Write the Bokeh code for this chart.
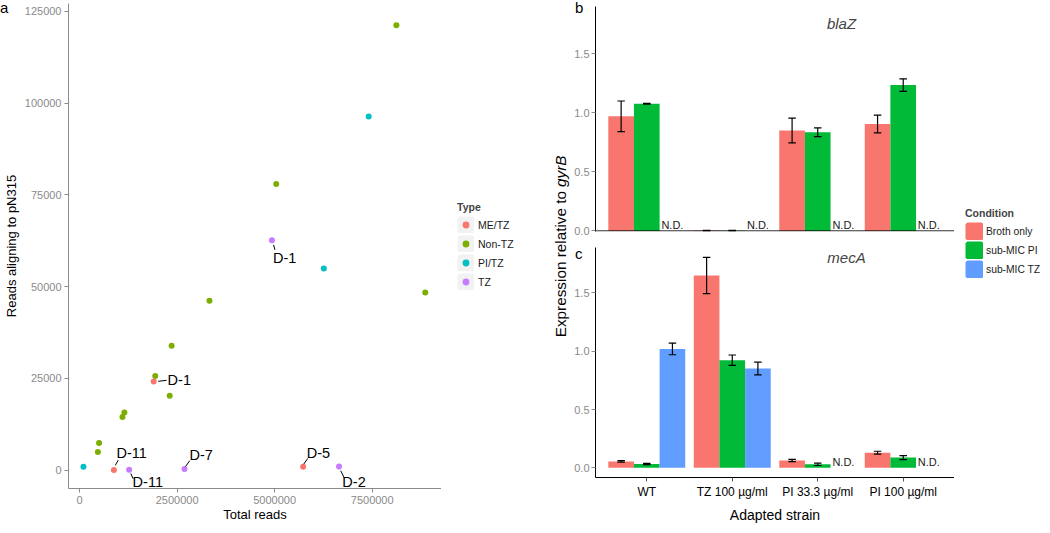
import math
from bokeh.plotting import figure
from bokeh.models import (ColumnDataSource, Range1d, FactorRange, FixedTicker, Div, Span,
                          NumeralTickFormatter, Legend, LegendItem, Label)
from bokeh.transform import dodge, factor_cmap
from bokeh.layouts import row, column
from bokeh.embed import file_html
from bokeh.resources import INLINE
from bokeh.core.properties import value

FONT = "Liberation Sans"
NAN = float("nan")
GRAY = "#8a8a8a"

# ---------------- Panel a data ----------------
types = ["ME/TZ", "Non-TZ", "PI/TZ", "TZ"]
type_colors = ["#F8766D", "#7CAE00", "#00BFC4", "#C77CFF"]
total_reads = [8120000, 5040000, 8860000, 3330000, 2360000, 1940000, 2310000,
               1150000, 1100000, 500000, 470000,
               7410000, 6260000, 100000,
               1900000, 880000, 5730000,
               4930000, 1270000, 2690000, 6650000]
pn315_reads = [121200, 77960, 48390, 46160, 33870, 25650, 20270,
               15700, 14440, 7370, 4950,
               96340, 54950, 910,
               24110, 0, 910,
               62630, 100, 300, 1000]
sample_type = ["Non-TZ", "Non-TZ", "Non-TZ", "Non-TZ", "Non-TZ", "Non-TZ", "Non-TZ",
               "Non-TZ", "Non-TZ", "Non-TZ", "Non-TZ",
               "PI/TZ", "PI/TZ", "PI/TZ",
               "ME/TZ", "ME/TZ", "ME/TZ",
               "TZ", "TZ", "TZ", "TZ"]
label_names = ["D-1", "D-1", "D-11", "D-11", "D-7", "D-5", "D-2"]
label_point = [17, 14, 15, 18, 19, 16, 20]
a_x_ticks = [0, 2500000, 5000000, 7500000]
a_y_ticks = [0, 25000, 50000, 75000, 100000, 125000]

# ---------------- Panels b / c data ----------------
strains = ["WT", "TZ 100 µg/ml", "PI 33.3 µg/ml", "PI 100 µg/ml"]
conditions = ["Broth only", "sub-MIC PI", "sub-MIC TZ"]
cond_colors = ["#F8766D", "#00BA38", "#619CFF"]

blaZ_broth = [0.97, 0.003, 0.85, 0.905]
blaZ_broth_err = [0.13, 0.002, 0.105, 0.075]
blaZ_pi = [1.077, 0.002, 0.835, 1.235]
blaZ_pi_err = [0.003, 0.002, 0.037, 0.053]
blaZ_tz = [None, None, None, None]
blaZ_tz_err = [None, None, None, None]

mecA_broth = [0.055, 1.65, 0.063, 0.13]
mecA_broth_err = [0.006, 0.155, 0.01, 0.012]
mecA_pi = [0.033, 0.923, 0.03, 0.088]
mecA_pi_err = [0.005, 0.045, 0.01, 0.017]
mecA_tz = [1.02, 0.852, None, None]
mecA_tz_err = [0.05, 0.054, None, None]
bc_y_ticks = [0, 0.5, 1.0, 1.5]

# ---------------- layout constants ----------------
XA = (-283000, 9276000)
YA = (-5014, 127125)
A_W, A_H, A_L, A_R, A_T, A_B = 441, 525, 66, 0, 3, 37
label_dx = [12.7, 25.6, 17.7, 18.7, 16.7, 15.3, 15.0]
label_dy = [18.0, -2.0, -16.7, 12.4, -14.0, -14.0, 15.7]
seg_start = [(1.7, 4.6), (4.6, -0.3), (1.4, -4.7), (1.7, 3.7), (1.0, -2.4), (0.6, -2.6), (1.7, 4.3)]
seg_end = [(3.0, 9.6), (13.0, -1.3), (4.4, -10.0), (4.0, 9.0), (5.3, -8.4), (4.6, -8.3), (5.0, 11.0)]


def clean(lst):
    return [NAN if v is None else v for v in lst]


def letter(txt, margin):
    return Div(text='<span style="font-family:\'Liberation Sans\';font-size:15px;color:#000;'
                    'line-height:normal;">%s</span>' % txt,
               width=14, height=20, margin=margin)


def style_axis(ax, line_color, tick_color, label_color, size="11px"):
    ax.axis_line_color = line_color
    ax.major_tick_line_color = tick_color
    ax.minor_tick_line_color = None
    ax.major_tick_out = 4
    ax.major_tick_in = 0
    ax.major_label_text_color = label_color
    ax.major_label_text_font = FONT
    ax.major_label_text_font_size = size
    ax.axis_label_text_font = FONT
    ax.axis_label_text_font_style = "normal"
    ax.axis_label_text_color = "black"


# ================= Panel a =================
pa = figure(width=A_W, height=A_H, x_range=Range1d(*XA), y_range=Range1d(*YA),
            output_backend="svg", toolbar_location=None,
            min_border_left=A_L, min_border_right=A_R, min_border_top=A_T, min_border_bottom=A_B)
pa.grid.visible = False
pa.outline_line_color = None
pa.border_fill_alpha = 0
for ax in (pa.xaxis[0], pa.yaxis[0]):
    style_axis(ax, GRAY, GRAY, GRAY)
    ax.axis_label_text_font_size = "13px"
    ax.major_label_standoff = 3
pa.xaxis[0].axis_label = "Total reads"
pa.xaxis[0].axis_label_standoff = 0
pa.yaxis[0].axis_label = "Reads aligning to pN315"
pa.yaxis[0].axis_label_standoff = 3
pa.xaxis[0].ticker = FixedTicker(ticks=a_x_ticks)
pa.yaxis[0].ticker = FixedTicker(ticks=a_y_ticks)
pa.xaxis[0].formatter = NumeralTickFormatter(format="0")
pa.yaxis[0].formatter = NumeralTickFormatter(format="0")

src_a = ColumnDataSource(dict(x=total_reads, y=pn315_reads, t=sample_type))
pa.scatter("x", "y", source=src_a, size=6,
           fill_color=factor_cmap("t", type_colors, types), line_color=None)

fw = A_W - A_L - A_R
fh = A_H - A_T - A_B
sx = fw / (XA[1] - XA[0])
sy = fh / (YA[1] - YA[0])
lx = [total_reads[i] for i in label_point]
ly = [pn315_reads[i] for i in label_point]
seg_src = ColumnDataSource(dict(
    x0=[x + s[0] / sx for x, s in zip(lx, seg_start)],
    y0=[y - s[1] / sy for y, s in zip(ly, seg_start)],
    x1=[x + s[0] / sx for x, s in zip(lx, seg_end)],
    y1=[y - s[1] / sy for y, s in zip(ly, seg_end)]))
pa.segment("x0", "y0", "x1", "y1", source=seg_src, line_color="black", line_width=1)
lab_src = ColumnDataSource(dict(x=lx, y=ly, text=label_names, dx=label_dx, dy=label_dy))
pa.text("x", "y", text="text", x_offset="dx", y_offset="dy", source=lab_src,
        text_font=value(FONT), text_font_size="14.5px", text_align="center",
        text_baseline="middle", text_color="black")

# ================= Middle: Type legend + shared y label =================
M_W = 130
M_FH = A_H - A_T - A_B
pm = figure(width=M_W, height=A_H, x_range=Range1d(0, M_W), y_range=Range1d(0, M_FH),
            output_backend="svg", toolbar_location=None, x_axis_type=None, y_axis_type=None,
            min_border_left=0, min_border_right=0, min_border_top=A_T, min_border_bottom=A_B)
pm.grid.visible = False
pm.outline_line_color = None
pm.border_fill_alpha = 0
leg_src = ColumnDataSource(dict(x=[NAN] * len(types), y=[NAN] * len(types), c=type_colors))
bg = pm.rect("x", "y", width=1, height=1, source=leg_src, fill_color="#F2F2F2",
             line_color="#F2F2F2", line_width=3.4)
dots = pm.scatter("x", "y", source=leg_src, fill_color="c", line_color=None)
leg_a = Legend(items=[LegendItem(label=t, renderers=[bg, dots], index=i) for i, t in enumerate(types)],
               location=(16, 198), title="Type", orientation="vertical",
               glyph_width=17, glyph_height=17, label_height=17, label_width=10,
               spacing=2, padding=0, margin=0, label_standoff=4,
               label_text_font=FONT, label_text_font_size="10.5px", label_text_color="#1a1a1a",
               title_text_font=FONT, title_text_font_size="10.5px", title_text_font_style="bold",
               title_standoff=3, border_line_color=None, background_fill_alpha=0)
pm.add_layout(leg_a)
frame_bottom_page = A_H - A_B
YLAB_X = 118.5
pm.text(x=[YLAB_X], y=[frame_bottom_page - 190.5], text=["Expression relative to"],
        angle=math.pi / 2, text_align="right", text_baseline="alphabetic",
        text_font=value(FONT), text_font_size="15.3px", text_color="black")
pm.text(x=[YLAB_X], y=[frame_bottom_page - 186.5], text=["gyrB"], angle=math.pi / 2,
        text_align="left", text_baseline="alphabetic", text_font=value(FONT),
        text_font_size="15.3px", text_font_style="italic", text_color="black")


# ================= Panels b / c =================
def bar_panel(height, y_range, top_border, bottom_border, series, show_x):
    p = figure(width=383, height=height, x_range=FactorRange(*strains, range_padding=0.05),
               y_range=Range1d(*y_range), output_backend="svg", toolbar_location=None,
               min_border_left=22, min_border_right=0,
               min_border_top=top_border, min_border_bottom=bottom_border)
    p.grid.visible = False
    p.outline_line_color = None
    p.border_fill_alpha = 0
    style_axis(p.yaxis[0], "black", GRAY, GRAY)
    p.yaxis[0].major_label_standoff = 2
    p.yaxis[0].ticker = FixedTicker(ticks=bc_y_ticks)
    p.yaxis[0].formatter = NumeralTickFormatter(format="0.0")
    xa = p.xaxis[0]
    if show_x:
        style_axis(xa, "black", "#555555", "black", "12px")
        xa.axis_label = "Adapted strain"
        xa.axis_label_text_font_size = "14px"
        xa.axis_label_standoff = 5
        xa.major_label_standoff = 3
    else:
        xa.visible = False
        p.add_layout(Span(location=0, dimension="width", line_color="black", line_width=1))
    offsets = [-0.3, 0.0, 0.3]
    for (vals, errs), color, off in zip(series, cond_colors, offsets):
        v = clean(vals)
        e = clean(errs)
        src = ColumnDataSource(dict(s=strains, v=v, lo=[a - b for a, b in zip(v, e)],
                                    hi=[a + b for a, b in zip(v, e)]))
        xd = dodge("s", off, range=p.x_range)
        p.vbar(x=xd, top="v", width=0.3, source=src, fill_color=color, line_color=None)
        p.segment(x0=xd, y0="lo", x1=xd, y1="hi", source=src, line_color="black", line_width=1.2)
        p.scatter(x=xd, y="lo", source=src, marker="dash", size=7.5, line_color="black", line_width=1.2)
        p.scatter(x=xd, y="hi", source=src, marker="dash", size=7.5, line_color="black", line_width=1.2)
    tz_vals = series[2][0]
    nd = [s for s, val in zip(strains, tz_vals) if val is None]
    nd_src = ColumnDataSource(dict(s=nd, y=[0.0] * len(nd), t=["N.D."] * len(nd)))
    p.text(x=dodge("s", 0.3, range=p.x_range), y="y", text="t", source=nd_src,
           text_font=value(FONT), text_font_size="11px", text_align="center",
           text_baseline="bottom", text_color="#1a1a1a")
    return p


pb = bar_panel(239, (-0.005, 1.9), 6, 8,
               [(blaZ_broth, blaZ_broth_err), (blaZ_pi, blaZ_pi_err), (blaZ_tz, blaZ_tz_err)], False)
pc = bar_panel(286, (-0.083, 1.89), 8, 43,
               [(mecA_broth, mecA_broth_err), (mecA_pi, mecA_pi_err), (mecA_tz, mecA_tz_err)], True)

pb.add_layout(Label(x=246, y=208, x_units="screen", y_units="screen", text="blaZ",
                    text_font=FONT, text_font_size="15px", text_font_style="italic",
                    text_align="center", text_baseline="alphabetic"))
pc.add_layout(Label(x=251, y=220, x_units="screen", y_units="screen", text="mecA",
                    text_font=FONT, text_font_size="15px", text_font_style="italic",
                    text_align="center", text_baseline="alphabetic"))

# ================= Condition legend =================
L_W = 88
pl = figure(width=L_W, height=A_H, x_range=Range1d(0, L_W), y_range=Range1d(0, M_FH),
            output_backend="svg", toolbar_location=None, x_axis_type=None, y_axis_type=None,
            min_border_left=0, min_border_right=0, min_border_top=A_T, min_border_bottom=A_B)
pl.grid.visible = False
pl.outline_line_color = None
pl.border_fill_alpha = 0
cl_src = ColumnDataSource(dict(x=[NAN] * 3, y=[NAN] * 3, c=cond_colors))
cr = pl.rect("x", "y", width=1, height=1, source=cl_src, fill_color="c", line_color="c", line_width=3.6)
leg_c = Legend(items=[LegendItem(label=c, renderers=[cr], index=i) for i, c in enumerate(conditions)],
               location=(11, 210), title="Condition",
               glyph_width=18, glyph_height=18, label_height=18, label_width=10,
               spacing=1, padding=0, margin=0, label_standoff=3,
               label_text_font=FONT, label_text_font_size="10.3px", label_text_color="#1a1a1a",
               title_text_font=FONT, title_text_font_size="10.5px", title_text_font_style="bold",
               title_standoff=3, border_line_color=None, background_fill_alpha=0)
pl.add_layout(leg_c)

# panel letters (HTML text overlaid on the figure borders)
div_a = letter("a", (-1, -14, 0, 0))
div_b = letter("b", (-1, 0, -19, 4))
div_c = letter("c", (6, 0, -26, 4))

layout = row(div_a, pa, pm, column(div_b, pb, div_c, pc), pl)
with open("out.html", "w", encoding="utf-8") as f:
    f.write(file_html(layout, INLINE))
